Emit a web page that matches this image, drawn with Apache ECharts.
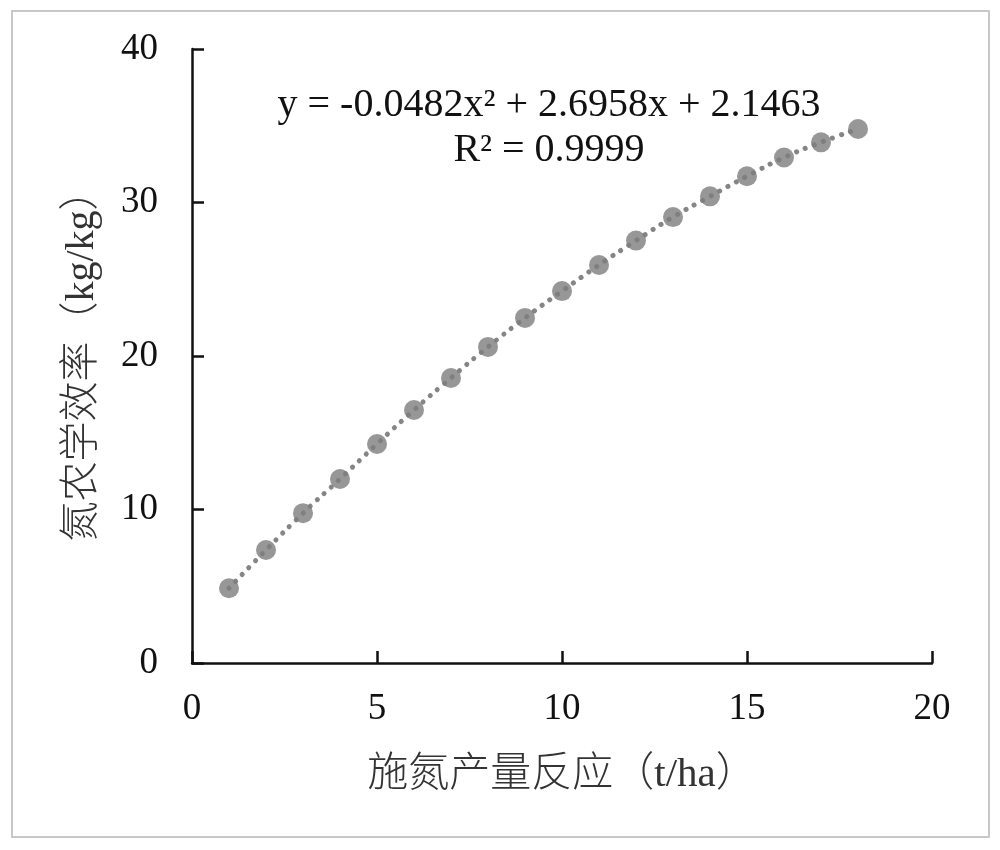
<!DOCTYPE html>
<html>
<head>
<meta charset="utf-8">
<script src="https://cdn.jsdelivr.net/npm/echarts@6/dist/echarts.min.js"></script>
<style>
  html, body { margin: 0; padding: 0; background: #fff; }
  #chart { width: 1000px; height: 850px; }
</style>
</head>
<body>
<div id="chart"></div>
<script>
// nitrogen yield response (t/ha) vs agronomic efficiency (kg/kg)
const xValues = [1, 2, 3, 4, 5, 6, 7, 8, 9, 10, 11, 12, 13, 14, 15, 16, 17, 18]
const yValues = [4.87, 7.36, 9.76, 11.99, 14.27, 16.48, 18.57, 20.59, 22.48, 24.23, 25.93, 27.52, 29.05, 30.4, 31.71, 32.93, 33.92, 34.79]
const equationText = 'y = -0.0482x² + 2.6958x + 2.1463'
const r2Text = 'R² = 0.9999'
const xTitle = '施氮产量反应（t/ha）'
const yTitle = '氮农学效率（kg/kg）'

const points = xValues.map((x, i) => [x, yValues[i]])
const serif = '"Liberation Serif", "Times New Roman", "Noto Sans CJK SC", serif'
const cjk = '"Liberation Serif", "Noto Sans CJK SC", serif'

const chart = echarts.init(document.getElementById('chart'), null, { renderer: 'canvas' })

const axisCommon = {
  axisLine: { show: true, onZero: false, lineStyle: { color: '#111', width: 2.5 } },
  axisTick: { show: true, inside: true, length: 12, lineStyle: { color: '#111', width: 2.5 } },
  splitLine: { show: false },
  axisLabel: { color: '#111', fontFamily: serif, fontSize: 37 }
}

chart.setOption({
  animation: false,
  backgroundColor: '#fff',
  grid: { left: 192, top: 49, width: 740, height: 614 },
  xAxis: {
    ...axisCommon,
    type: 'value',
    min: 0,
    max: 20,
    interval: 5,
    axisLabel: { ...axisCommon.axisLabel, margin: 28 },
    name: xTitle,
    nameLocation: 'middle',
    nameGap: 92,
    nameTextStyle: { color: '#333', fontFamily: cjk, fontSize: 41, fontWeight: 300 }
  },
  yAxis: {
    ...axisCommon,
    type: 'value',
    min: 0,
    max: 40,
    interval: 10,
    axisLabel: { ...axisCommon.axisLabel, margin: 34 },
    name: yTitle,
    nameLocation: 'middle',
    nameGap: 90,
    nameTextStyle: { color: '#333', fontFamily: cjk, fontSize: 40, fontWeight: 300 }
  },
  graphic: [
    {
      type: 'rect',
      shape: { x: 12, y: 11, width: 977, height: 826 },
      style: { fill: 'none', stroke: '#c8c8c8', lineWidth: 2 },
      silent: true
    },
    {
      type: 'text',
      x: 549,
      y: 128,
      style: {
        text: equationText + '\n' + r2Text,
        font: '40px ' + serif,
        fill: '#111',
        align: 'center',
        verticalAlign: 'middle',
        lineHeight: 45
      }
    }
  ],
  series: [
    {
      type: 'line',
      data: points,
      smooth: true,
      showSymbol: false,
      lineStyle: { color: '#858585', width: 5, type: [0.1, 9.5], cap: 'round' },
      z: 1
    },
    {
      type: 'scatter',
      data: points,
      symbol: 'circle',
      symbolSize: 20,
      itemStyle: { color: '#7d7d7d' },
      z: 2
    }
  ]
})
</script>
</body>
</html>
